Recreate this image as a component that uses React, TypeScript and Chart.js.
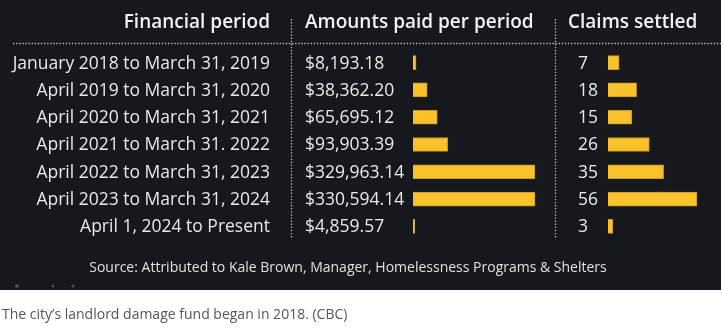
import React, { useEffect, useRef } from "react";
import { Chart, registerables } from "chart.js";

Chart.register(...registerables);

// ---- data ----
const periods = [
  "January 2018 to March 31, 2019",
  "April 2019 to March 31, 2020",
  "April 2020 to March 31, 2021",
  "April 2021 to March 31. 2022",
  "April 2022 to March 31, 2023",
  "April 2023 to March 31, 2024",
  "April 1, 2024 to Present",
];
const amounts = [8193.18, 38362.2, 65695.12, 93903.39, 329963.14, 330594.14, 4859.57];
const claims = [7, 18, 15, 26, 35, 56, 3];
const headers = ["Financial period", "Amounts paid per period", "Claims settled"];
const sourceText = "Source: Attributed to Kale Brown, Manager, Homelessness Programs & Shelters";
const captionText = "The city\u2019s landlord damage fund began in 2018. (CBC)";

// ---- layout ----
const W = 723;
const H = 331;
const BOX_R = 721;
const BOX_B = 290;
const AREA_L = 413;
const AREA_R = 697;
const AMT_MAX_END = 535;
const CL_ZERO = 608;
const ROW_TOP = 49;
const ROW_BOTTOM = 240;
const FONT = "'Open Sans', 'Noto Sans', sans-serif";

const fmtMoney = (v: number) =>
  "$" + v.toLocaleString("en-US", { minimumFractionDigits: 2, maximumFractionDigits: 2 });

export default function App() {
  const ref = useRef<HTMLCanvasElement | null>(null);

  useEffect(() => {
    const canvas = ref.current;
    if (!canvas) return;
    const maxAmt = Math.max(...amounts);
    const maxCl = Math.max(...claims);
    const areaW = AREA_R - AREA_L;
    const amtMax = (maxAmt * areaW) / (AMT_MAX_END - AREA_L);
    const clPx = (AREA_R - CL_ZERO) / maxCl;
    const clMin = -(CL_ZERO - AREA_L) / clPx;

    const dotted = (ctx: CanvasRenderingContext2D, x1: number, y1: number, x2: number, y2: number) => {
      ctx.save();
      ctx.strokeStyle = "#b8b8b8";
      ctx.lineWidth = 1.3;
      ctx.setLineDash([1.4, 1.7]);
      ctx.beginPath();
      ctx.moveTo(x1, y1);
      ctx.lineTo(x2, y2);
      ctx.stroke();
      ctx.restore();
    };

    const plugin = {
      id: "tableDecor",
      beforeDraw(chart: any) {
        const ctx = chart.ctx as CanvasRenderingContext2D;
        ctx.save();
        ctx.fillStyle = "#ffffff";
        ctx.fillRect(0, 0, W, H);
        ctx.fillStyle = "#16181d";
        ctx.fillRect(0, 0, BOX_R, BOX_B);
        // faint player dots
        ctx.fillStyle = "#4a4c52";
        [[17, 286, 2], [53, 286, 1.4], [73, 286, 1.6]].forEach(([x, y, r]) => {
          ctx.beginPath();
          ctx.arc(x, y, r, 0, Math.PI * 2);
          ctx.fill();
        });
        ctx.restore();

        dotted(ctx, 13, 43.5, BOX_R, 43.5);
        dotted(ctx, 291.5, 19, 291.5, 238);
        dotted(ctx, 555.5, 19, 555.5, 238);
      },
      afterDatasetsDraw(chart: any) {
        const ctx = chart.ctx as CanvasRenderingContext2D;
        const yS = chart.scales.y;
        ctx.save();
        ctx.textBaseline = "middle";
        // headers
        ctx.fillStyle = "#f2f2f2";
        ctx.font = `600 19px ${FONT}`;
        ctx.textAlign = "right";
        ctx.fillText(headers[0], 270, 23);
        ctx.textAlign = "left";
        ctx.fillText(headers[1], 305, 23);
        ctx.fillText(headers[2], 568, 23);
        // rows
        ctx.font = `17.5px ${FONT}`;
        ctx.fillStyle = "#e8e8e8";
        periods.forEach((p, i) => {
          const y = yS.getPixelForValue(i) + 1;
          ctx.textAlign = "right";
          ctx.fillText(p, 270, y);
          ctx.textAlign = "left";
          ctx.fillText(fmtMoney(amounts[i]), 305, y);
          ctx.fillText(String(claims[i]), 578, y);
        });
        // source
        ctx.font = `14px ${FONT}`;
        ctx.fillStyle = "#e0e0e0";
        ctx.textAlign = "center";
        ctx.fillText(sourceText, 348, 268);
        // caption
        ctx.font = `14px ${FONT}`;
        ctx.fillStyle = "#555555";
        ctx.textAlign = "left";
        ctx.fillText(captionText, 2, 315);
        ctx.restore();
      },
    };

    const chart = new Chart(canvas, {
      type: "bar",
      data: {
        labels: periods,
        datasets: [
          {
            label: headers[1],
            data: amounts,
            xAxisID: "xAmt",
            backgroundColor: "#f9c22c",
            borderColor: "#c89a20",
            borderWidth: 1,
            barThickness: 14,
            grouped: false,
          } as any,
          {
            label: headers[2],
            data: claims,
            xAxisID: "xCl",
            backgroundColor: "#f9c22c",
            borderColor: "#c89a20",
            borderWidth: 1,
            barThickness: 14,
            grouped: false,
          } as any,
        ],
      },
      options: {
        indexAxis: "y",
        responsive: false,
        animation: false,
        devicePixelRatio: 1,
        layout: {
          padding: { left: AREA_L, right: W - AREA_R, top: ROW_TOP, bottom: H - ROW_BOTTOM },
        },
        plugins: { legend: { display: false }, tooltip: { enabled: false } },
        scales: {
          y: { type: "category", display: false, offset: true },
          xAmt: { type: "linear", axis: "x", position: "bottom", display: false, min: 0, max: amtMax },
          xCl: { type: "linear", axis: "x", position: "bottom", display: false, min: clMin, max: maxCl },
        },
      } as any,
      plugins: [plugin],
    });
    return () => chart.destroy();
  }, []);

  return (
    <div style={{ position: "fixed", left: 0, top: 0, width: W, height: H }}>
      <canvas ref={ref} width={W} height={H} style={{ width: W, height: H, display: "block" }} />
    </div>
  );
}
